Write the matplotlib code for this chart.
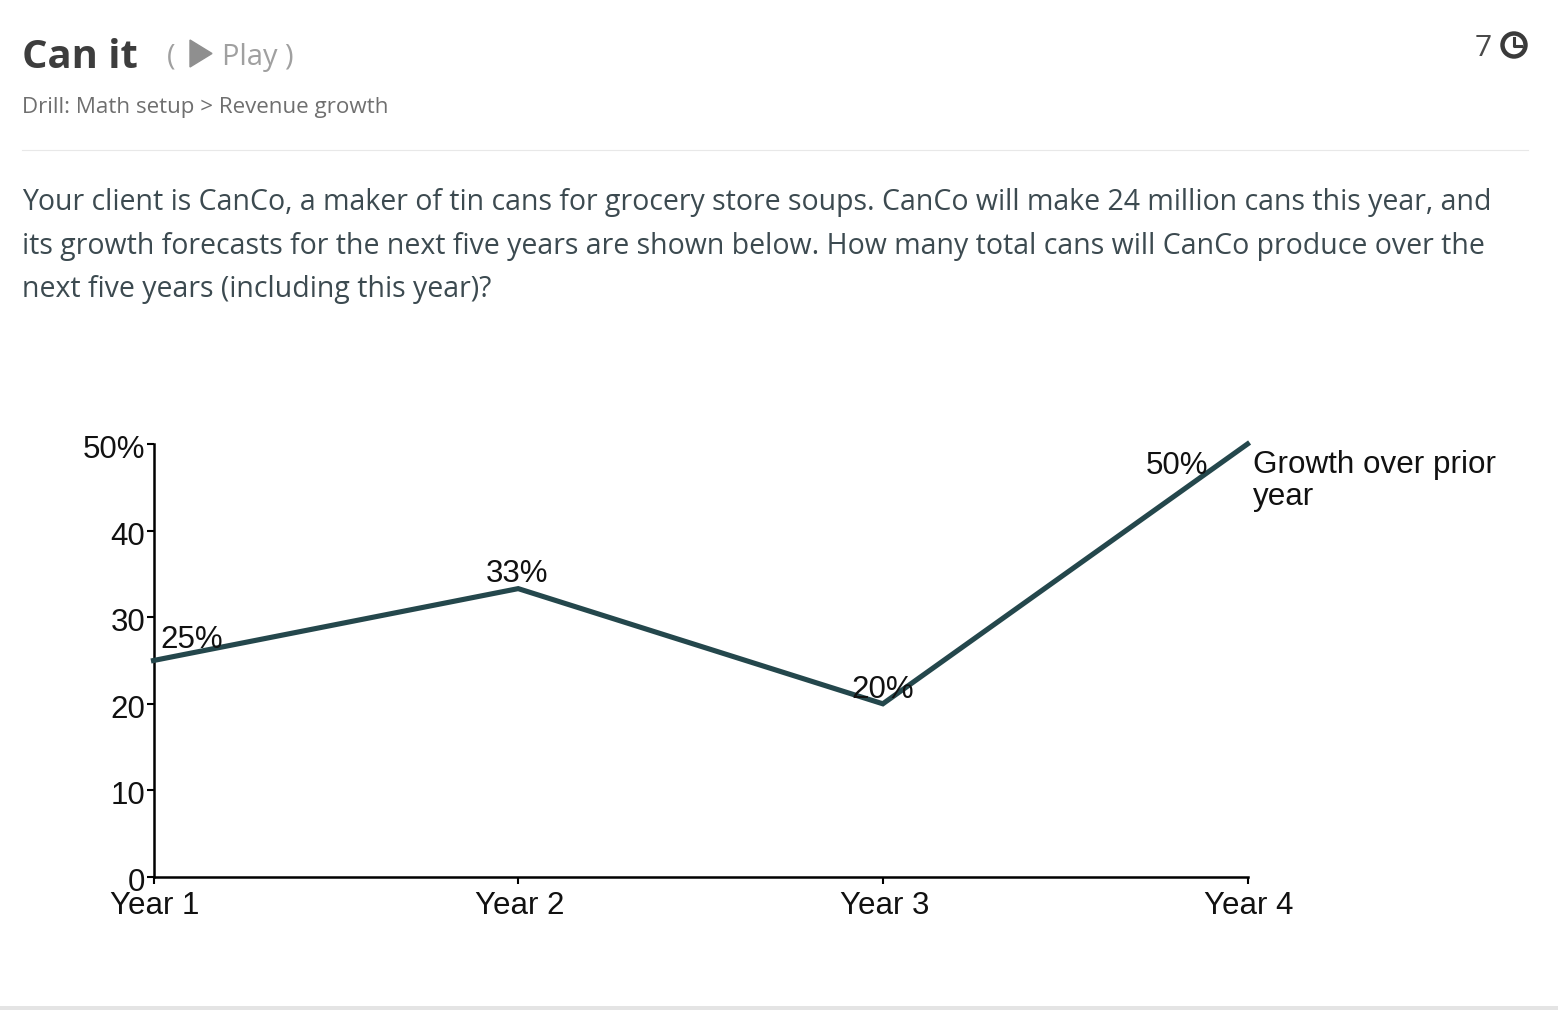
import matplotlib
matplotlib.use("Agg")
import matplotlib.pyplot as plt
from matplotlib.patches import Polygon, Circle
from matplotlib.transforms import ScaledTranslation

categories = ["Year 1", "Year 2", "Year 3", "Year 4"]
growth = [25, 33.3, 20, 50]
point_labels = ["25%", "33%", "20%", "50%"]
y_ticks = [0, 10, 20, 30, 40, 50]
y_labels = ["0", "10", "20", "30", "40", "50%"]

W, H = 1558, 1010
fig = plt.figure(figsize=(W / 100, H / 100), dpi=100, facecolor="white")
PX = 72 / 100
UI = "Open Sans"
CH = "Liberation Sans"

def T(x, y, s, size, color, weight="normal", family=UI, **kw):
    fig.text(x / W, 1 - y / H, s, fontsize=size * PX, color=color, weight=weight,
             family=family, va=kw.pop("va", "center"), ha=kw.pop("ha", "left"), **kw)

T(22, 58, "Can it", 40, "#3d3d3d", weight="bold")
T(167, 57, "(", 29, "#a0a0a0")
T(222, 57, "Play )", 29, "#a0a0a0")
T(22, 107, "Drill: Math setup > Revenue growth", 22.4, "#6f6f6f")
T(1475, 48, "7", 30, "#4a4a4a")
body = ["Your client is CanCo, a maker of tin cans for grocery store soups. CanCo will make 24 million cans this year, and",
        "its growth forecasts for the next five years are shown below. How many total cans will CanCo produce over the",
        "next five years (including this year)?"]
for y, line in zip([202.5, 246.5, 289.5], body):
    T(22, y, line, 28.55, "#3c4a50")

bg = fig.add_axes([0, 0, 1, 1], zorder=-1)
bg.set_xlim(0, W); bg.set_ylim(H, 0); bg.axis("off")
bg.plot([22, 1528], [149.5, 149.5], color="#e8e8e8", lw=0.8)
bg.add_patch(Polygon([[190, 40], [190, 67], [212, 53.5]], color="#8f8f8f"))
bg.add_patch(Circle((1514, 45), 11.5, fill=False, ec="#3a3a3a", lw=3.2))
bg.plot([1514, 1514, 1521], [38, 46, 46], color="#3a3a3a", lw=2.2)
bg.fill_between([0, W], 1006, 1010, color="#e4e4e4", lw=0)

left, right, top, bottom = 153.5, 1247.5, 444, 877
ax = fig.add_axes([left / W, 1 - bottom / H, (right - left) / W, (bottom - top) / H])
ax.patch.set_alpha(0)
x = list(range(len(categories)))
ax.plot(x, growth, color="#24474c", lw=3.7, solid_joinstyle="miter", clip_on=False, zorder=3)
ax.set_xlim(0, 3); ax.set_ylim(0, 50)
ax.set_xticks(x); ax.set_xticklabels(categories)
ax.set_yticks(y_ticks); ax.set_yticklabels(y_labels)
for s in ("top", "right"):
    ax.spines[s].set_visible(False)
for s in ("left", "bottom"):
    ax.spines[s].set_linewidth(1.8)
ax.tick_params(axis="both", labelsize=31.3 * PX, length=5, width=1.5, labelcolor="#111111")
ax.tick_params(axis="y", pad=0.8, direction="out")
ax.tick_params(axis="x", pad=5.2)
shift = ScaledTranslation(0, -2.5 / 100, fig.dpi_scale_trans)
for lab in ax.get_yticklabels():
    lab.set_family(CH)
    lab.set_transform(lab.get_transform() + shift)
xshift = ScaledTranslation(1.5 / 100, 0, fig.dpi_scale_trans)
for lab in ax.get_xticklabels():
    lab.set_family(CH)
    lab.set_transform(lab.get_transform() + xshift)

offsets = [(7, -21), (-1, -15), (0, -14), (-39, 22)]
aligns = ["left", "center", "center", "right"]
for xi, yi, lab, off, al in zip(x, growth, point_labels, offsets, aligns):
    ax.annotate(lab, (xi, yi), xytext=(off[0] * PX, -off[1] * PX), textcoords="offset points",
                ha=al, va="center", fontsize=31.3 * PX, family=CH, color="#111111", zorder=4)
T(1253, 465, "Growth over prior", 31.4, "#111111", family=CH)
T(1253, 497, "year", 31.4, "#111111", family=CH)

fig.savefig("out.png", dpi=100, facecolor="white")
